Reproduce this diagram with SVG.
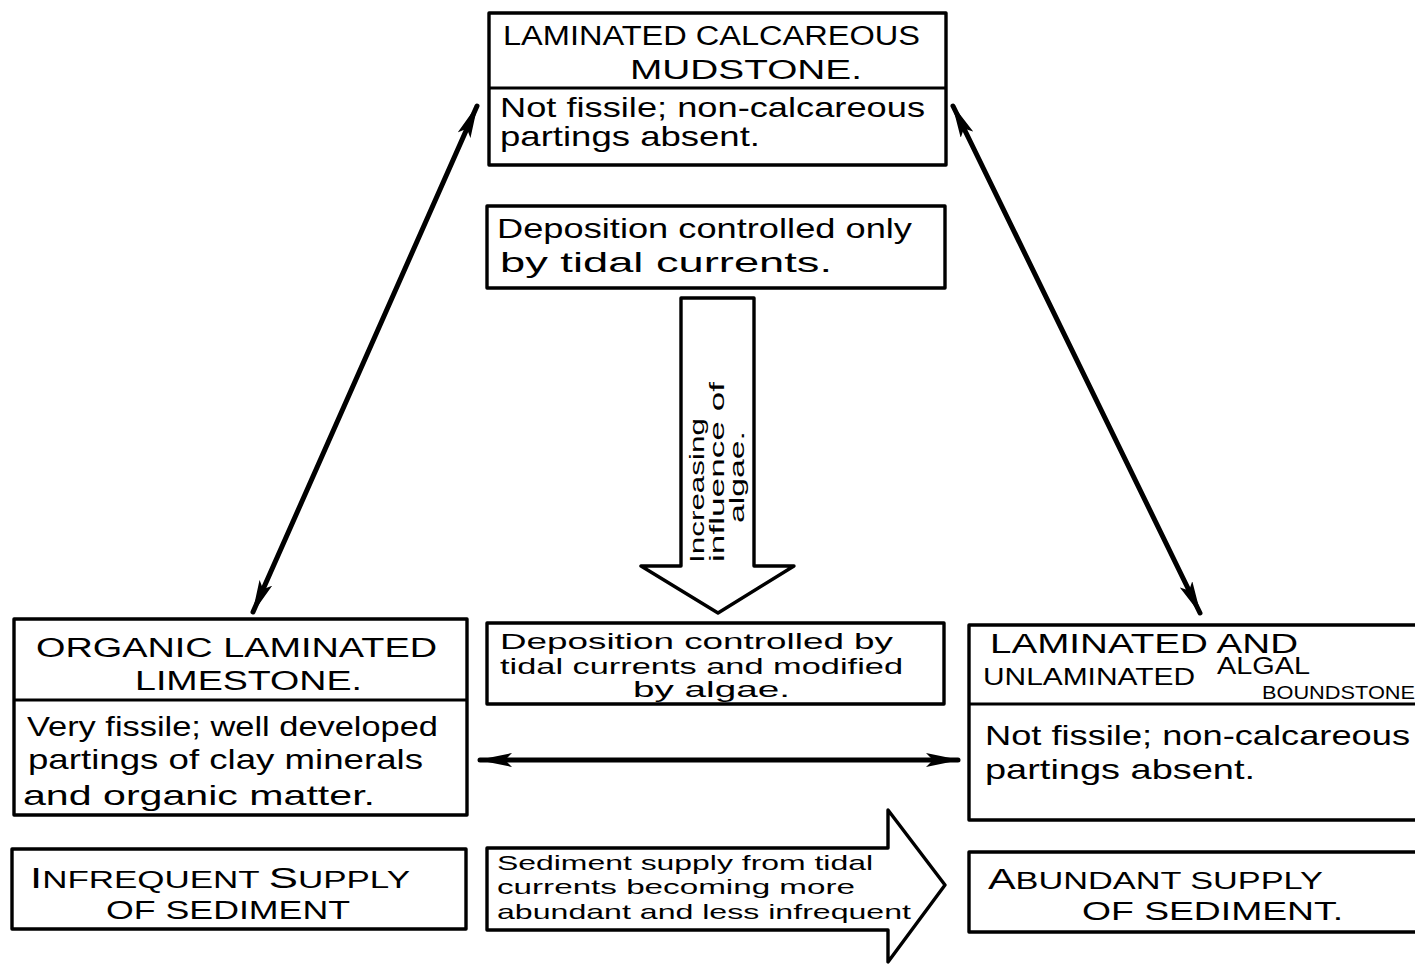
<svg xmlns="http://www.w3.org/2000/svg" width="1415" height="964" viewBox="0 0 1415 964">
  <defs>
    <style>
      .box { fill: #fff; stroke: #000; stroke-width: 3.4; stroke-linejoin: round; }
      .div { stroke: #000; stroke-width: 3; }
      .t { font-family: "Liberation Sans", "DejaVu Sans", sans-serif; fill: #000; }
      .cap { font-size: 27px; }
      .low { font-size: 28px; }
      .conn { stroke: #000; stroke-width: 5; fill: none; stroke-linecap: round; }
      .block { fill: #fff; stroke: #000; stroke-width: 3.4; stroke-linejoin: round; }
    </style>
    <marker id="head" viewBox="0 0 34 14" refX="32" refY="7" markerWidth="34" markerHeight="14" markerUnits="userSpaceOnUse" orient="auto-start-reverse">
      <path d="M0,0 L34,7 L0,14 L7,7 Z" fill="#000"/>
    </marker>
  </defs>

  <!-- connectors -->
  <g id="connectors">
    <line class="conn" x1="477" y1="106" x2="253" y2="612" marker-start="url(#head)" marker-end="url(#head)"/>
    <line class="conn" x1="953" y1="106" x2="1200" y2="613" marker-start="url(#head)" marker-end="url(#head)"/>
    <line class="conn" x1="480" y1="760" x2="958" y2="760" marker-start="url(#head)" marker-end="url(#head)"/>
  </g>

  <!-- laminated calcareous mudstone -->
  <g id="mudstone">
    <rect class="box" x="489" y="13" width="457" height="152"/>
    <line class="div" x1="489" y1="88" x2="946" y2="88"/>
    <text class="t cap" x="503" y="45" textLength="417" lengthAdjust="spacingAndGlyphs">LAMINATED CALCAREOUS</text>
    <text class="t cap" x="630" y="79" textLength="232" lengthAdjust="spacingAndGlyphs">MUDSTONE.</text>
    <text class="t low" x="500" y="117" textLength="425" lengthAdjust="spacingAndGlyphs">Not fissile; non-calcareous</text>
    <text class="t low" x="500" y="146" textLength="260" lengthAdjust="spacingAndGlyphs">partings absent.</text>
  </g>

  <!-- deposition by tidal currents only -->
  <g id="tidal-only">
    <rect class="box" x="487" y="206" width="458" height="82"/>
    <text class="t low" x="497" y="238" textLength="415" lengthAdjust="spacingAndGlyphs">Deposition controlled only</text>
    <text class="t low" x="500" y="272" textLength="332" lengthAdjust="spacingAndGlyphs">by  tidal currents.</text>
  </g>

  <!-- increasing influence of algae -->
  <g id="algae-arrow">
    <path class="block" d="M681,298 L754,298 L754,566 L794,566 L718,613 L641,566 L681,566 Z"/>
    <g transform="translate(704,563) rotate(-90)">
      <text class="t" font-size="20" x="0" y="0" textLength="145" lengthAdjust="spacingAndGlyphs">Increasing</text>
    </g>
    <g transform="translate(724,562) rotate(-90)">
      <text class="t" font-size="20" x="0" y="0" textLength="180" lengthAdjust="spacingAndGlyphs">influence  of</text>
    </g>
    <g transform="translate(744,523) rotate(-90)">
      <text class="t" font-size="20" x="0" y="0" textLength="92" lengthAdjust="spacingAndGlyphs">algae.</text>
    </g>
  </g>

  <!-- organic laminated limestone -->
  <g id="limestone">
    <rect class="box" x="14" y="619" width="453" height="196"/>
    <line class="div" x1="14" y1="700" x2="467" y2="700"/>
    <text class="t cap" x="36" y="657" textLength="401" lengthAdjust="spacingAndGlyphs">ORGANIC LAMINATED</text>
    <text class="t cap" x="135" y="690" textLength="227" lengthAdjust="spacingAndGlyphs">LIMESTONE.</text>
    <text class="t low" x="27" y="736" textLength="411" lengthAdjust="spacingAndGlyphs">Very fissile; well developed</text>
    <text class="t low" x="28" y="769" textLength="395" lengthAdjust="spacingAndGlyphs">partings  of clay minerals</text>
    <text class="t low" x="23" y="805" textLength="352" lengthAdjust="spacingAndGlyphs">and organic matter.</text>
  </g>

  <!-- deposition modified by algae -->
  <g id="tidal-algae">
    <rect class="box" x="487" y="623" width="457" height="81"/>
    <text class="t" font-size="22" x="500" y="649" textLength="393" lengthAdjust="spacingAndGlyphs">Deposition controlled by</text>
    <text class="t" font-size="22" x="500" y="674" textLength="403" lengthAdjust="spacingAndGlyphs">tidal currents and modified</text>
    <text class="t" font-size="22" x="633" y="697" textLength="157" lengthAdjust="spacingAndGlyphs">by algae.</text>
  </g>

  <!-- laminated and unlaminated algal boundstone -->
  <g id="boundstone">
    <rect class="box" x="969" y="625" width="460" height="195"/>
    <line class="div" x1="969" y1="704" x2="1415" y2="704"/>
    <text class="t cap" x="990" y="653" textLength="308" lengthAdjust="spacingAndGlyphs">LAMINATED AND</text>
    <text class="t" font-size="23" x="983" y="685" textLength="212" lengthAdjust="spacingAndGlyphs">UNLAMINATED</text>
    <text class="t" font-size="23" x="1217" y="674" textLength="93" lengthAdjust="spacingAndGlyphs">ALGAL</text>
    <text class="t" font-size="18" x="1262" y="699" textLength="153" lengthAdjust="spacingAndGlyphs">BOUNDSTONE</text>
    <text class="t low" x="985" y="745" textLength="425" lengthAdjust="spacingAndGlyphs">Not fissile; non-calcareous</text>
    <text class="t low" x="985" y="779" textLength="270" lengthAdjust="spacingAndGlyphs">partings  absent.</text>
  </g>

  <!-- infrequent supply -->
  <g id="infrequent">
    <rect class="box" x="12" y="849" width="454" height="80"/>
    <text class="t" x="30" y="888" textLength="380" lengthAdjust="spacingAndGlyphs"><tspan font-size="30">I</tspan><tspan font-size="24">NFREQUENT  </tspan><tspan font-size="30">S</tspan><tspan font-size="24">UPPLY</tspan></text>
    <text class="t" font-size="25" x="106" y="919" textLength="244" lengthAdjust="spacingAndGlyphs">OF  SEDIMENT</text>
  </g>

  <!-- sediment supply arrow -->
  <g id="supply-arrow">
    <path class="block" d="M487,848 L888,848 L888,810 L945,885 L888,962 L888,930 L487,930 Z"/>
    <text class="t" font-size="21" x="497" y="870" textLength="376" lengthAdjust="spacingAndGlyphs">Sediment supply from tidal</text>
    <text class="t" font-size="21" x="497" y="894" textLength="358" lengthAdjust="spacingAndGlyphs">currents  becoming  more</text>
    <text class="t" font-size="21" x="497" y="919" textLength="414" lengthAdjust="spacingAndGlyphs">abundant and less infrequent</text>
  </g>

  <!-- abundant supply -->
  <g id="abundant">
    <rect class="box" x="969" y="852" width="460" height="80"/>
    <text class="t" x="988" y="889" textLength="335" lengthAdjust="spacingAndGlyphs"><tspan font-size="29">A</tspan><tspan font-size="24">BUNDANT  SUPPLY</tspan></text>
    <text class="t" font-size="25" x="1082" y="920" textLength="261" lengthAdjust="spacingAndGlyphs">OF  SEDIMENT.</text>
  </g>
</svg>
